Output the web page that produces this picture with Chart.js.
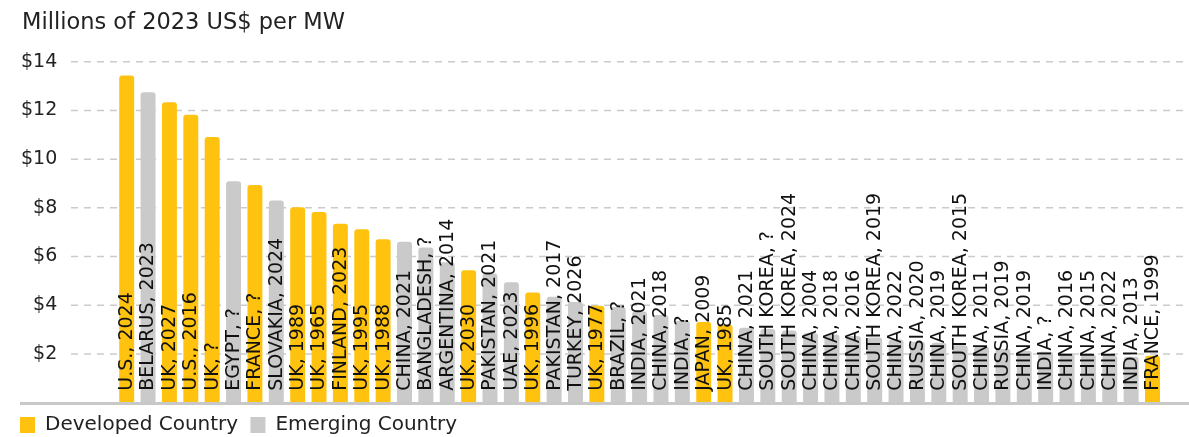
<!DOCTYPE html>
<html>
<head>
<meta charset="utf-8">
<script src="https://cdn.jsdelivr.net/npm/chart.js@4/dist/chart.umd.min.js"></script>
<style>
  html, body { margin: 0; padding: 0; background: #ffffff; }
  #wrap { width: 1189px; height: 437px; position: relative; }
</style>
</head>
<body>
<div id="wrap"><canvas id="c"></canvas></div>
<script>
const subtitle = 'Millions of 2023 US$ per MW';
const categories = [
  'U.S., 2024', 'BELARUS, 2023', 'UK, 2027', 'U.S., 2016', 'UK, ?', 'EGYPT, ?', 'FRANCE, ?',
  'SLOVAKIA, 2024', 'UK, 1989', 'UK, 1965', 'FINLAND, 2023', 'UK, 1995', 'UK, 1988', 'CHINA, 2021',
  'BANGLADESH, ?', 'ARGENTINA, 2014', 'UK, 2030', 'PAKISTAN, 2021', 'UAE, 2023', 'UK, 1996',
  'PAKISTAN, 2017', 'TURKEY, 2026', 'UK, 1977', 'BRAZIL, ?', 'INDIA, 2021', 'CHINA, 2018', 'INDIA, ?',
  'JAPAN, 2009', 'UK, 1985', 'CHINA, 2021', 'SOUTH KOREA, ?', 'SOUTH KOREA, 2024', 'CHINA, 2004',
  'CHINA, 2018', 'CHINA, 2016', 'SOUTH KOREA, 2019', 'CHINA, 2022', 'RUSSIA, 2020', 'CHINA, 2019',
  'SOUTH KOREA, 2015', 'CHINA, 2011', 'RUSSIA, 2019', 'CHINA, 2019', 'INDIA, ?', 'CHINA, 2016',
  'CHINA, 2015', 'CHINA, 2022', 'INDIA, 2013', 'FRANCE, 1999'
];
const values = [
  13.43, 12.75, 12.34, 11.82, 10.91, 9.09, 8.94,
  8.30, 8.02, 7.83, 7.35, 7.12, 6.71, 6.61,
  6.37, 5.77, 5.44, 5.30, 4.95, 4.52,
  4.35, 4.13, 3.98, 3.93, 3.74, 3.60, 3.36,
  3.31, 3.20, 3.08, 3.03, 2.96, 2.85,
  2.80, 2.74, 2.68, 2.59, 2.50, 2.46,
  2.36, 2.31, 2.20, 2.13, 2.09, 2.02,
  1.98, 1.95, 1.89, 1.93
];
// D = Developed Country, E = Emerging Country
const groups = [
  'D','E','D','D','D','E','D',
  'E','D','D','D','D','D','E',
  'E','E','D','E','E','D',
  'E','E','D','E','E','E','E',
  'D','D','E','E','E','E',
  'E','E','E','E','E','E',
  'E','E','E','E','E','E',
  'E','E','E','D'
];
const seriesNames = ['Developed Country', 'Emerging Country'];
const yTicks = [0, 2, 4, 6, 8, 10, 12, 14];

const YELLOW = '#FFC30F';
const GRAY = '#C9CAC9';
const FONT = '"DejaVu Sans", sans-serif';

const developed = values.map((v, i) => groups[i] === 'D' ? v : null);
const emerging = values.map((v, i) => groups[i] === 'E' ? v : null);

const decorPlugin = {
  id: 'decor',
  beforeDatasetsDraw(chart) {
    const ctx = chart.ctx;
    const y = chart.scales.y;
    ctx.save();
    ctx.strokeStyle = '#cbcbcb';
    ctx.lineWidth = 1.5;
    ctx.setLineDash([7, 6]);
    y.ticks.forEach(t => {
      if (t.value <= 0) return;
      const py = y.getPixelForValue(t.value);
      ctx.beginPath();
      ctx.moveTo(71, py);
      ctx.lineTo(chart.width, py);
      ctx.stroke();
    });
    ctx.restore();
  },
  afterDatasetsDraw(chart) {
    const ctx = chart.ctx;
    const y = chart.scales.y;
    const base = y.getPixelForValue(0);
    ctx.save();
    ctx.font = '19px ' + FONT;
    ctx.fillStyle = '#111111';
    ctx.textAlign = 'left';
    ctx.textBaseline = 'middle';
    chart.data.datasets.forEach((ds, di) => {
      const meta = chart.getDatasetMeta(di);
      meta.data.forEach((bar, i) => {
        if (ds.data[i] === null || ds.data[i] === undefined) return;
        ctx.save();
        ctx.translate(bar.x + 0.5, base - 12);
        ctx.rotate(-Math.PI / 2);
        ctx.fillText(chart.data.labels[i], 0, 0);
        ctx.restore();
      });
    });
    // baseline
    ctx.strokeStyle = '#c8c8c8';
    ctx.lineWidth = 3;
    ctx.beginPath();
    ctx.moveTo(20, base + 0.8);
    ctx.lineTo(chart.width, base + 0.8);
    ctx.stroke();
    // subtitle
    ctx.font = '22.5px ' + FONT;
    ctx.fillStyle = '#222222';
    ctx.textBaseline = 'middle';
    ctx.fillText(subtitle, 22, 23);
    ctx.restore();
  }
};

new Chart(document.getElementById('c'), {
  type: 'bar',
  data: {
    labels: categories,
    datasets: [
      {
        label: seriesNames[0],
        data: developed,
        backgroundColor: YELLOW,
        borderColor: YELLOW,
        borderWidth: 0,
        borderRadius: { topLeft: 3, topRight: 3, bottomLeft: 0, bottomRight: 0 },
        borderSkipped: 'start'
      },
      {
        label: seriesNames[1],
        data: emerging,
        backgroundColor: GRAY,
        borderColor: GRAY,
        borderWidth: 0,
        borderRadius: { topLeft: 3, topRight: 3, bottomLeft: 0, bottomRight: 0 },
        borderSkipped: 'start'
      }
    ]
  },
  options: {
    responsive: true,
    maintainAspectRatio: false,
    animation: false,
    devicePixelRatio: 1,
    datasets: {
      bar: { grouped: false, barPercentage: 0.70, categoryPercentage: 1.0 }
    },
    layout: { padding: { left: 7.7, right: 25.8, top: 61.7, bottom: -8 } },
    scales: {
      x: { display: false },
      y: {
        min: 0,
        max: 14,
        afterBuildTicks(scale) { scale.ticks = yTicks.map(v => ({ value: v })); },
        afterFit(scale) {
          scale.width = 108.3;
          scale.paddingTop = 0;
          scale.paddingBottom = 0;
        },
        grid: { display: false, drawTicks: false },
        border: { display: false },
        ticks: {
          padding: 58.7,
          color: '#222222',
          font: { family: FONT, size: 19 },
          callback: v => v === 0 ? '' : '$' + v
        }
      }
    },
    plugins: {
      legend: {
        position: 'bottom',
        align: 'start',
        labels: {
          boxWidth: 15,
          boxHeight: 16,
          padding: 12.3,
          color: '#222222',
          font: { family: FONT, size: 20 }
        }
      },
      title: { display: false },
      tooltip: { enabled: false }
    }
  },
  plugins: [decorPlugin]
});
</script>
</body>
</html>
